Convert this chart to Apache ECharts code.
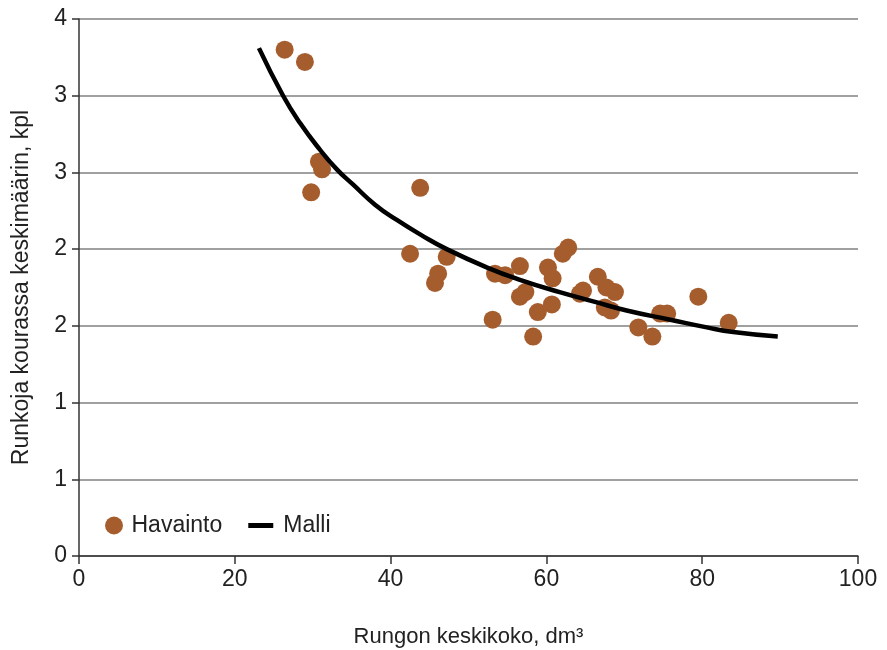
<!DOCTYPE html>
<html>
<head>
<meta charset="utf-8">
<script src="https://cdn.jsdelivr.net/npm/echarts@6/dist/echarts.min.js"></script>
<style>
  html, body { margin: 0; padding: 0; background: #ffffff; }
  #chart { width: 887px; height: 650px; }
</style>
</head>
<body>
<div id="chart"></div>
<script>
// havainnot: [rungon keskikoko dm3, runkoja kourassa kpl]
const havainto = [
  [26.4, 3.30], [29.0, 3.22], [30.8, 2.57], [31.2, 2.52], [29.8, 2.37],
  [43.8, 2.40], [42.5, 1.97], [47.2, 1.95], [46.1, 1.84], [45.7, 1.78],
  [53.1, 1.54], [53.4, 1.84], [54.7, 1.83], [56.6, 1.89], [56.6, 1.69],
  [57.3, 1.72], [58.3, 1.43], [58.9, 1.59], [60.7, 1.64], [60.2, 1.88],
  [60.8, 1.81], [62.1, 1.97], [62.8, 2.01], [64.3, 1.71], [64.7, 1.73],
  [66.6, 1.82], [67.7, 1.75], [68.8, 1.72], [67.5, 1.62], [68.3, 1.60],
  [71.8, 1.49], [73.6, 1.43], [74.6, 1.58], [75.5, 1.58], [79.5, 1.69],
  [83.4, 1.52]
]
// mallin käyrä luettuna kuvasta
const malli = [
  [23.1, 3.31], [26.2, 3.00], [28.4, 2.82], [30.9, 2.65], [33.1, 2.52],
  [35.2, 2.42], [38.0, 2.29], [40.8, 2.19], [44.0, 2.09], [47.2, 2.00],
  [52.4, 1.88], [56.6, 1.80], [61.7, 1.72], [66.0, 1.66], [70.3, 1.60],
  [75.9, 1.54], [80.6, 1.49], [84.0, 1.46], [89.7, 1.43]
]
const yTickLabels = ['0', '1', '1', '2', '2', '3', '3', '4']
const xTicks = [0, 20, 40, 60, 80, 100]

const font = 'Liberation Sans, Arial, sans-serif'
const fs = 23
let myChart = echarts.init(document.getElementById('chart'))

myChart.setOption({
  backgroundColor: '#ffffff',
  animation: false,
  textStyle: { fontFamily: font },
  grid: {
    left: 79, right: 29, top: 19, bottom: 94,
    containLabel: false, outerBoundsMode: 'none'
  },
  legend: {
    left: 100, top: 509,
    itemWidth: 25, itemHeight: 18, itemGap: 26,
    symbolKeepAspect: true,
    textStyle: { fontSize: fs, color: '#222', fontFamily: font },
    data: [
      { name: 'Havainto', icon: 'circle' },
      {
        name: 'Malli', icon: 'path://M0,0 L25,0 L25,5 L0,5 Z',
        itemStyle: { color: '#000' },
        textStyle: { padding: [0, 0, 0, 5] }
      }
    ]
  },
  xAxis: {
    type: 'value',
    min: xTicks[0], max: xTicks[xTicks.length - 1], interval: 20,
    name: 'Rungon keskikoko, dm³',
    nameLocation: 'middle', nameGap: 70,
    nameTextStyle: { fontSize: 22, color: '#222', fontFamily: font },
    axisLine: { lineStyle: { color: '#333', width: 1.5 } },
    axisTick: { show: true, length: 8, lineStyle: { color: '#333', width: 1.5 } },
    axisLabel: { fontSize: fs, color: '#222', margin: 12, fontFamily: font },
    splitLine: { show: false }
  },
  yAxis: {
    type: 'value',
    min: 0, max: 3.5, interval: 0.5,
    name: 'Runkoja kourassa keskimäärin, kpl',
    nameLocation: 'middle', nameGap: 46,
    nameTextStyle: { fontSize: fs, color: '#222', fontFamily: font },
    axisLine: { show: true, lineStyle: { color: '#333', width: 1.5 } },
    axisTick: { show: true, length: 7, lineStyle: { color: '#333', width: 1.5 } },
    axisLabel: {
      fontSize: fs, color: '#222', margin: 12, fontFamily: font,
      formatter: v => yTickLabels[Math.round(v / 0.5)]
    },
    splitLine: { show: true, lineStyle: { color: '#808080', width: 1.5 } }
  },
  series: [
    {
      name: 'Havainto',
      type: 'scatter',
      data: havainto,
      symbol: 'circle',
      symbolSize: 18,
      itemStyle: { color: '#a65d2e', opacity: 1 },
      z: 3
    },
    {
      name: 'Malli',
      type: 'line',
      data: malli,
      smooth: 0.5,
      symbol: 'none',
      lineStyle: { color: '#000', width: 4.5 },
      itemStyle: { color: '#000' },
      z: 4
    }
  ]
})
</script>
</body>
</html>
